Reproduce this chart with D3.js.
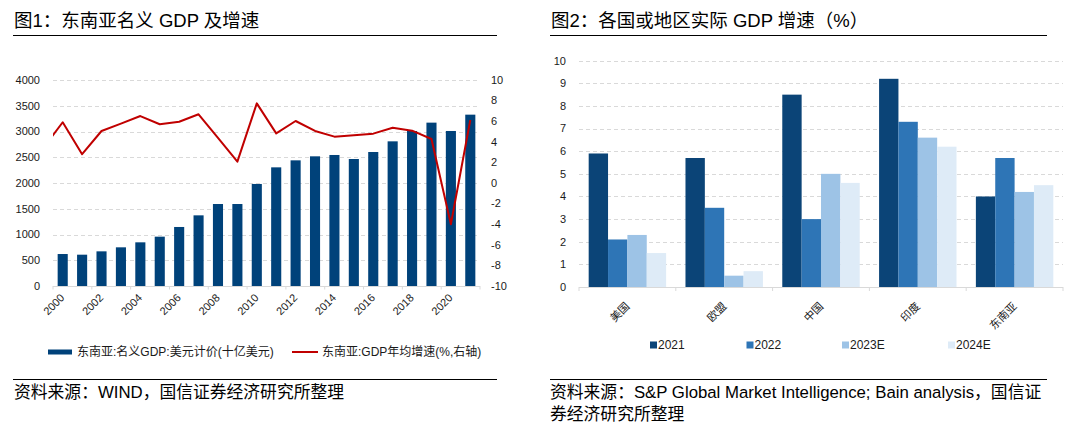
<!DOCTYPE html>
<html><head><meta charset="utf-8">
<script src="https://cdn.jsdelivr.net/npm/d3@7"></script>
<style>
html,body{margin:0;padding:0;background:#fff;}
svg{display:block;font-family:"Liberation Sans",Arial,"Noto Sans CJK SC",sans-serif;}
</style></head>
<body>
<svg id="c" width="1080" height="427"></svg>
<script>
// ---- Chart 1 data ----
const years = ["2000","2001","2002","2003","2004","2005","2006","2007","2008","2009","2010","2011","2012","2013","2014","2015","2016","2017","2018","2019","2020","2021"];
const gdpNominal = [621,608,673,751,848,958,1146,1372,1592,1592,1981,2304,2440,2518,2544,2466,2602,2809,3010,3172,3010,3327];
const growthYears = [1999,2000,2001,2002,2003,2004,2005,2006,2007,2008,2009,2010,2011,2012,2013,2014,2015,2016,2017,2018,2019,2020,2021];
const growth = [3.4,5.9,2.8,5.05,5.76,6.5,5.7,5.95,6.67,4.37,2.07,7.73,4.82,6.02,5.05,4.5,4.63,4.79,5.37,5.08,4.27,-4.01,6.12];
const leftTicks = [0,500,1000,1500,2000,2500,3000,3500,4000];
const rightTicks = [-10,-8,-6,-4,-2,0,2,4,6,8,10];
const xLabelYears = ["2000","2002","2004","2006","2008","2010","2012","2014","2016","2018","2020"];

// ---- Chart 2 data ----
const regions = ["美国","欧盟","中国","印度","东南亚"];
const seriesNames = ["2021","2022","2023E","2024E"];
const g2021 = [5.9,5.7,8.5,9.2,4.0];
const g2022 = [2.1,3.5,3.0,7.3,5.7];
const g2023E = [2.3,0.5,5.0,6.6,4.2];
const g2024E = [1.5,0.7,4.6,6.2,4.5];
const ticks2 = [0,1,2,3,4,5,6,7,8,9,10];

const svg = d3.select("#c");
const txt = "#1a1a1a";
const gridC = "#d9d9d9";

// ---------- Headers & footers ----------
function header(x0, x1, title){
  svg.append("text").attr("x", x0+1).attr("y", 26.5).attr("font-size", 18.5).attr("fill", "#000").text(title);
  svg.append("line").attr("x1", x0).attr("x2", x1).attr("y1", 35.5).attr("y2", 35.5).attr("stroke", "#000").attr("stroke-width", 1);
  svg.append("line").attr("x1", x0).attr("x2", x1).attr("y1", 379.5).attr("y2", 379.5).attr("stroke", "#000").attr("stroke-width", 1);
}
header(13, 497, "图1：东南亚名义 GDP 及增速");
header(550, 1047, "图2：各国或地区实际 GDP 增速（%）");
svg.append("text").attr("x", 14).attr("y", 398).attr("font-size", 16.8).attr("fill", "#000").text("资料来源：WIND，国信证券经济研究所整理");
svg.append("text").attr("x", 550).attr("y", 398).attr("font-size", 16.8).attr("fill", "#000").text("资料来源：S&P Global Market Intelligence; Bain analysis，国信证");
svg.append("text").attr("x", 550).attr("y", 419.5).attr("font-size", 16.8).attr("fill", "#000").text("券经济研究所整理");

// ---------- Chart 1 ----------
const L = {x0:53, x1:480, y0:286, y1:80};
const x1 = d3.scaleBand().domain(years).range([L.x0, L.x1]).paddingInner(0.48).paddingOuter(0.24);
const yL = d3.scaleLinear().domain([0,4000]).range([L.y0, L.y1]);
const yR = d3.scaleLinear().domain([-10,10]).range([L.y0, L.y1]);

const g1 = svg.append("g");
// grid
g1.selectAll("line.grid").data(leftTicks.filter(d=>d>0)).join("line")
  .attr("x1", L.x0).attr("x2", L.x1).attr("y1", d=>Math.round(yL(d))+0.5).attr("y2", d=>Math.round(yL(d))+0.5)
  .attr("stroke", gridC).attr("stroke-dasharray", "4,3");
// left labels
g1.selectAll("text.yl").data(leftTicks).join("text")
  .attr("x", 40).attr("y", d=>yL(d)).attr("dy", "0.35em").attr("text-anchor", "end")
  .attr("font-size", 11).attr("fill", txt).text(d=>d);
// right labels
g1.selectAll("text.yr").data(rightTicks).join("text")
  .attr("x", 491).attr("y", d=>yR(d)).attr("dy", "0.35em").attr("text-anchor", "start")
  .attr("font-size", 11).attr("fill", txt).text(d=>d);
// bars
g1.selectAll("rect.bar").data(years).join("rect")
  .attr("x", d=>x1(d)).attr("width", x1.bandwidth())
  .attr("y", (d,i)=>yL(gdpNominal[i])).attr("height", (d,i)=>yL(0)-yL(gdpNominal[i]))
  .attr("fill", "#00427a");
// x axis
g1.append("line").attr("x1", L.x0).attr("x2", L.x1).attr("y1", L.y0+0.5).attr("y2", L.y0+0.5).attr("stroke", gridC);
const step1 = x1.step();
const tickIdx = d3.range(0, years.length+1, 2);
g1.selectAll("line.tk").data(tickIdx).join("line")
  .attr("x1", i=>L.x0+i*step1).attr("x2", i=>L.x0+i*step1)
  .attr("y1", L.y0).attr("y2", L.y0+3.5).attr("stroke", gridC);
g1.selectAll("text.xl").data(xLabelYears).join("text")
  .attr("transform", d=>`translate(${x1(d)+x1.bandwidth()/2+2.5},${L.y0+12.5}) rotate(-45)`)
  .attr("text-anchor", "end").attr("font-size", 11).attr("fill", txt).text(d=>d);
// line (clipped to plot)
svg.append("clipPath").attr("id", "clip1").append("rect")
  .attr("x", L.x0).attr("y", 0).attr("width", L.x1-L.x0).attr("height", 427);
const xYear = d3.scaleLinear().domain([2000, 2021])
  .range([x1("2000")+x1.bandwidth()/2, x1("2021")+x1.bandwidth()/2]);
const lineGen = d3.line().x((d,i)=>xYear(growthYears[i])).y(d=>yR(d));
g1.append("path").datum(growth).attr("d", lineGen).attr("fill", "none")
  .attr("stroke", "#c00000").attr("stroke-width", 2).attr("stroke-linejoin", "round")
  .attr("clip-path", "url(#clip1)");
// legend
g1.append("rect").attr("x", 48).attr("y", 349.5).attr("width", 24).attr("height", 5).attr("fill", "#00427a");
g1.append("text").attr("x", 77).attr("y", 352).attr("dy", "0.35em").attr("font-size", 12).attr("fill", txt).text("东南亚:名义GDP:美元计价(十亿美元)");
g1.append("line").attr("x1", 292).attr("x2", 318).attr("y1", 352).attr("y2", 352).attr("stroke", "#c00000").attr("stroke-width", 2);
g1.append("text").attr("x", 322).attr("y", 352).attr("dy", "0.35em").attr("font-size", 12).attr("fill", txt).text("东南亚:GDP年均增速(%,右轴)");

// ---------- Chart 2 ----------
const R = {x0:579, x1:1063, y0:287, y1:60.7};
const seriesVals = [g2021, g2022, g2023E, g2024E];
const colors = ["#0b4477", "#2e75b6", "#9dc3e6", "#deebf7"];
const xg = d3.scaleBand().domain(regions).range([R.x0, R.x1]).padding(0);
const xs = d3.scaleBand().domain(seriesNames).range([0, xg.bandwidth()]).paddingInner(0).paddingOuter(0.5);
const y2 = d3.scaleLinear().domain([0,10]).range([R.y0, R.y1]);
const g2 = svg.append("g");
g2.selectAll("line.grid").data(ticks2.filter(d=>d>0)).join("line")
  .attr("x1", R.x0).attr("x2", R.x1).attr("y1", d=>Math.round(y2(d))+0.5).attr("y2", d=>Math.round(y2(d))+0.5)
  .attr("stroke", gridC).attr("stroke-dasharray", "4,3");
g2.selectAll("text.yl").data(ticks2).join("text")
  .attr("x", 566).attr("y", d=>y2(d)).attr("dy", "0.35em").attr("text-anchor", "end")
  .attr("font-size", 11).attr("fill", txt).text(d=>d);
seriesNames.forEach((s, si)=>{
  g2.selectAll("rect.s"+si).data(regions).join("rect")
    .attr("x", d=>xg(d)+xs(s)).attr("width", xs.bandwidth())
    .attr("y", (d,i)=>y2(seriesVals[si][i])).attr("height", (d,i)=>y2(0)-y2(seriesVals[si][i]))
    .attr("fill", colors[si]);
});
g2.append("line").attr("x1", R.x0).attr("x2", R.x1).attr("y1", R.y0+0.5).attr("y2", R.y0+0.5).attr("stroke", gridC);
g2.selectAll("line.tk").data(d3.range(regions.length+1)).join("line")
  .attr("x1", i=>R.x0+i*xg.step()).attr("x2", i=>R.x0+i*xg.step())
  .attr("y1", R.y0).attr("y2", R.y0+4).attr("stroke", gridC);
g2.selectAll("text.xl").data(regions).join("text")
  .attr("transform", d=>`translate(${xg(d)+xg.bandwidth()/2+3},${R.y0+20}) rotate(-45)`)
  .attr("text-anchor", "end").attr("font-size", 11).attr("fill", txt).text(d=>d);
// legend
const legX = [650, 746.5, 842, 948];
seriesNames.forEach((s, si)=>{
  g2.append("rect").attr("x", legX[si]).attr("y", 341.5).attr("width", 7).attr("height", 7).attr("fill", colors[si]);
  g2.append("text").attr("x", legX[si]+8).attr("y", 345).attr("dy", "0.35em").attr("font-size", 12).attr("fill", txt).text(s);
});
</script>
</body></html>
